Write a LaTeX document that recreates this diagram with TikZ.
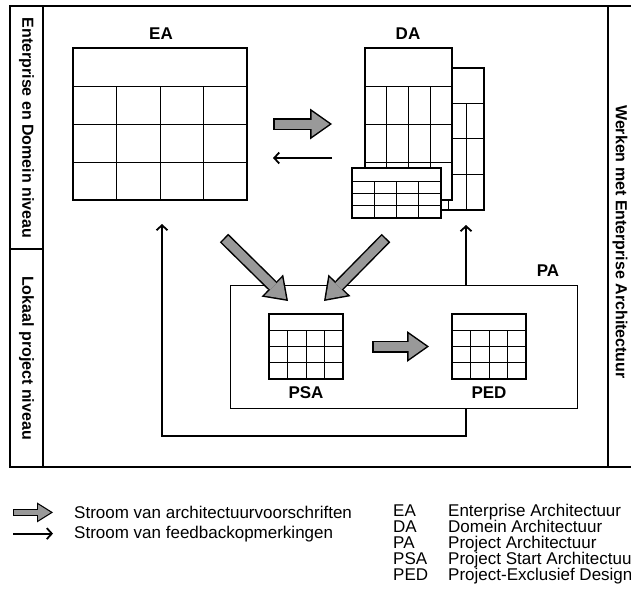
\documentclass[tikz,border=0pt]{standalone}
\usepackage{fontspec}
\setmainfont{Liberation Sans}
\usepackage{tikz}
\usetikzlibrary{arrows.meta}
\definecolor{flowgray}{RGB}{153,153,153}

\tikzset{
  frame/.style={line width=1.2pt},
  tablebox/.style={draw, fill=white, line width=2.2pt, inner sep=0pt, outer sep=0pt},
  pabox/.style={draw, line width=1pt, inner sep=0pt, outer sep=0pt},
  cell/.style={line width=0.9pt},
  tablelabel/.style={font=\fontsize{17}{20}\selectfont\bfseries, inner sep=0pt},
  sidetext/.style={font=\fontsize{16}{19}\selectfont\bfseries, rotate=-90, inner sep=0pt},
  keytext/.style={font=\fontsize{17}{20}\selectfont, anchor=base west, inner sep=0pt},
  feedback/.style={line width=1.8pt, -{Straight Barb[length=5pt,width=11pt]}},
  flow/.style={draw=flowgray, line width=9pt, shorten <=1.5pt, shorten >=2.6pt,
    -{Triangle[width=25.2pt,length=17.9pt,line width=0pt]},
    preaction={draw=black, line width=12pt, shorten <=0pt, shorten >=0pt,
      -{Triangle[width=31pt,length=22pt,line width=0pt]}}},
  flowkey/.style={draw=flowgray, line width=4.6pt, shorten <=1.2pt, shorten >=2.3pt,
    -{Triangle[width=15.7pt,length=12.5pt,line width=0pt]},
    preaction={draw=black, line width=7pt, shorten <=0pt, shorten >=0pt,
      -{Triangle[width=20pt,length=16pt,line width=0pt]}}},
}

\begin{document}
\begin{tikzpicture}[x=1pt,y=-1pt]
    \useasboundingbox (0,0) rectangle (631,605);

    % Draw the frame
    \draw[frame] (10,6) rectangle (645,467);
    \draw[frame] (43,6) -- (43,467);
    \draw[frame] (10,249) -- (43,249);
    \draw[frame] (608,6) -- (608,467);

    % Side texts
    \node[sidetext] (toplevel) at (26.5,128) {Enterprise en Domein niveau};
    \node[sidetext] (locallevel) at (26.5,358) {Lokaal project niveau};
    \node[sidetext] (working) at (620,242) {Werken met Enterprise Architectuur};

    % EA table
    \node[tablebox, minimum width=174pt, minimum height=152pt] (ea) at (160,124) {};
    \foreach \x in {116.5,160,203.5}
        \draw[cell] (\x,86) -- (\x,200);
    \foreach \y in {86,124,162}
        \draw[cell] (73,\y) -- (247,\y);
    \node[tablelabel] (ealabel) at (161,34) {EA};

    % DA tables, back to front
    \node[tablebox, minimum width=72pt, minimum height=142pt] (daback) at (448,139) {};
    \foreach \x in {430,448,466}
        \draw[cell] (\x,103) -- (\x,210);
    \foreach \y in {103,138.7,174.3}
        \draw[cell] (412,\y) -- (484,\y);

    \node[tablebox, minimum width=87pt, minimum height=152pt] (dafront) at (408.5,124) {};
    \foreach \x in {386.75,408.5,430.25}
        \draw[cell] (\x,86) -- (\x,200);
    \foreach \y in {86,124,162}
        \draw[cell] (365,\y) -- (452,\y);

    \node[tablebox, minimum width=89pt, minimum height=50pt] (dasmall) at (396.5,193) {};
    \foreach \x in {374.25,396.5,418.75}
        \draw[cell] (\x,181) -- (\x,218);
    \foreach \y in {181,193.3,205.7}
        \draw[cell] (352,\y) -- (441,\y);
    \node[tablelabel] (dalabel) at (408,34) {DA};

    % PA box with PSA and PED
    \node[pabox, minimum width=347pt, minimum height=123pt] (pa) at (403.5,346.5) {};
    \node[tablelabel] (palabel) at (548,271) {PA};

    \node[tablebox, minimum width=74pt, minimum height=65pt] (psa) at (306,346.5) {};
    \foreach \x in {287.5,306,324.5}
        \draw[cell] (\x,330) -- (\x,379);
    \foreach \y in {330,346.3,362.7}
        \draw[cell] (269,\y) -- (343,\y);
    \node[tablelabel] (psalabel) at (306,393) {PSA};

    \node[tablebox, minimum width=74pt, minimum height=65pt] (ped) at (489,346.5) {};
    \foreach \x in {470.5,489,507.5}
        \draw[cell] (\x,330) -- (\x,379);
    \foreach \y in {330,346.3,362.7}
        \draw[cell] (452,\y) -- (526,\y);
    \node[tablelabel] (pedlabel) at (489,393) {PED};

    % Draw arrows
    \draw[flow] ([xshift=26pt]ea.east) -- ([xshift=-33pt]dafront.west);
    \draw[feedback] ([xshift=-33pt,yshift=-34pt]dafront.west) -- ([xshift=26pt,yshift=-34pt]ea.east);
    \draw[flow] ([shift={(64pt,-38pt)}]ea.south) -- ([shift={(-18pt,13pt)}]psa.north);
    \draw[flow] ([shift={(-10.5pt,-20pt)}]dasmall.south) -- ([shift={(18pt,13pt)}]psa.north);
    \draw[flow] ([xshift=29pt]psa.east) -- ([xshift=-23pt]ped.west);
    \draw[feedback] ([xshift=62.5pt]pa.south) -- ++(0,28) -| ([xshift=2pt,yshift=-24pt]ea.south);
    \draw[feedback] ([xshift=62.5pt]pa.north) -- ++(0,-60);

    % Legend
    \node[keytext] (keyflow) at (74,518.5) {Stroom van architectuurvoorschriften};
    \node[keytext] (keyfb) at (74,538) {Stroom van feedbackopmerkingen};
    \draw[flowkey] ([xshift=-61pt]keyflow.west) -- ([xshift=-21pt]keyflow.west);
    \draw[feedback] ([xshift=-61pt]keyfb.west) -- ([xshift=-21pt]keyfb.west);

    \foreach \abbr/\name [count=\i] in {EA/Enterprise Architectuur, DA/Domein Architectuur,
        PA/Project Architectuur, PSA/Project Start Architectuur, PED/Project-Exclusief Design}
    {
        \node[keytext] (abbr\i) at (393,500+16*\i) {\abbr};
        \node[keytext] (name\i) at (448,500+16*\i) {\name};
    }
\end{tikzpicture}
\end{document}
